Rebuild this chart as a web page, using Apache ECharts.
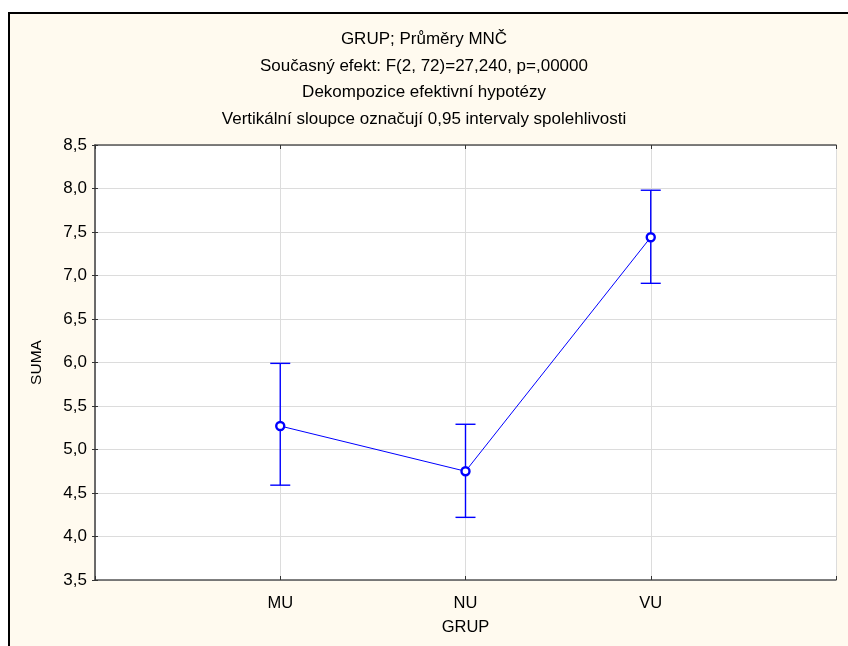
<!DOCTYPE html>
<html>
<head>
<meta charset="utf-8">
<script src="https://cdn.jsdelivr.net/npm/echarts@6/dist/echarts.min.js"></script>
<style>
html,body{margin:0;padding:0;background:#ffffff;}
#chart{width:848px;height:646px;}
</style>
</head>
<body>
<div id="chart"></div>
<script>
const categories = ['MU', 'NU', 'VU'];
const means = [5.27, 4.75, 7.44];
const lower = [4.59, 4.22, 6.91];
const upper = [5.99, 5.29, 7.98];
const yTicks = [3.5, 4.0, 4.5, 5.0, 5.5, 6.0, 6.5, 7.0, 7.5, 8.0, 8.5];
const titleLines = [
  'GRUP; Průměry MNČ',
  'Současný efekt: F(2, 72)=27,240, p=,00000',
  'Dekompozice efektivní hypotézy',
  'Vertikální sloupce označují 0,95 intervaly spolehlivosti'
];

const FONT = '"Liberation Sans", Arial, sans-serif';
const BLUE = '#0000ff';
const fmtY = v => v.toFixed(1).replace('.', ',');
const fmtX = v => categories[v - 1] || '';

const chart = echarts.init(document.getElementById('chart'), null, {renderer: 'canvas'});

const option = {
  backgroundColor: '#ffffff',
  animation: false,
  graphic: [
    {type: 'rect', z: -10, shape: {x: 9, y: 13, width: 845, height: 640}, style: {fill: '#fffaef', stroke: null}},
    {type: 'line', z: -9, shape: {x1: 9, y1: 13, x2: 848, y2: 13}, style: {stroke: '#000', lineWidth: 2}},
    {type: 'line', z: -9, shape: {x1: 9, y1: 12, x2: 9, y2: 646}, style: {stroke: '#000', lineWidth: 2}}
  ],
  title: {
    text: titleLines.join('\n'),
    left: 'center',
    top: 21,
    textStyle: {fontFamily: FONT, fontSize: 17, fontWeight: 'normal', color: '#000', lineHeight: 26.7}
  },
  grid: {left: 95, right: 12, top: 145, bottom: 66, show: true, backgroundColor: '#ffffff', borderWidth: 0},
  xAxis: [
    {
      type: 'value', min: 0, max: 4, interval: 1, position: 'bottom',
      name: 'GRUP', nameLocation: 'middle', nameGap: 39,
      nameTextStyle: {fontFamily: FONT, fontSize: 16.5, color: '#000'},
      axisLine: {lineStyle: {color: '#555', width: 1.5}},
      axisTick: {inside: true, length: 4, lineStyle: {color: '#333'}},
      axisLabel: {formatter: fmtX, fontFamily: FONT, fontSize: 16.5, color: '#000', margin: 15},
      splitLine: {show: true, lineStyle: {color: '#dcdcdc', width: 1}}
    },
    {
      type: 'value', min: 0, max: 4, interval: 1, position: 'top',
      axisLine: {lineStyle: {color: '#555', width: 1.5}},
      axisTick: {inside: true, length: 4, lineStyle: {color: '#333'}},
      axisLabel: {show: false},
      splitLine: {show: false}
    }
  ],
  yAxis: [
    {
      type: 'value', min: 3.5, max: 8.5, interval: 0.5, position: 'left',
      name: 'SUMA', nameLocation: 'middle', nameGap: 50,
      nameTextStyle: {fontFamily: FONT, fontSize: 15.5, color: '#000'},
      axisLine: {show: true, lineStyle: {color: '#555', width: 1.5}},
      axisTick: {show: true, length: 3, lineStyle: {color: '#333'}},
      axisLabel: {formatter: fmtY, fontFamily: FONT, fontSize: 17, color: '#000', margin: 8},
      splitLine: {show: true, lineStyle: {color: '#dcdcdc', width: 1}}
    },
    {
      type: 'value', min: 3.5, max: 8.5, interval: 0.5, position: 'right',
      axisLine: {show: true, lineStyle: {color: '#666', width: 1.5}},
      axisTick: {show: true, length: 3, lineStyle: {color: '#333'}},
      axisLabel: {show: false},
      splitLine: {show: false}
    }
  ],
  series: [
    {
      type: 'custom',
      name: 'ci',
      xAxisIndex: 0, yAxisIndex: 0,
      data: categories.map((c, i) => [i + 1, lower[i], upper[i]]),
      encode: {x: 0, y: [1, 2]},
      renderItem: function (params, api) {
        const x = api.value(0);
        const lo = api.coord([x, api.value(1)]);
        const hi = api.coord([x, api.value(2)]);
        const hw = 10;
        const st = {stroke: BLUE, lineWidth: 1.4};
        return {
          type: 'group',
          children: [
            {type: 'line', shape: {x1: lo[0], y1: lo[1], x2: hi[0], y2: hi[1]}, style: st},
            {type: 'line', shape: {x1: lo[0] - hw, y1: lo[1], x2: lo[0] + hw, y2: lo[1]}, style: st},
            {type: 'line', shape: {x1: hi[0] - hw, y1: hi[1], x2: hi[0] + hw, y2: hi[1]}, style: st}
          ]
        };
      },
      z: 2
    },
    {
      type: 'line',
      xAxisIndex: 0, yAxisIndex: 0,
      data: categories.map((c, i) => [i + 1, means[i]]),
      lineStyle: {color: BLUE, width: 1},
      symbol: 'circle',
      symbolSize: 8,
      itemStyle: {color: '#ffffff', borderColor: BLUE, borderWidth: 2.4},
      z: 3
    }
  ]
};
chart.setOption(option);
</script>
</body>
</html>
